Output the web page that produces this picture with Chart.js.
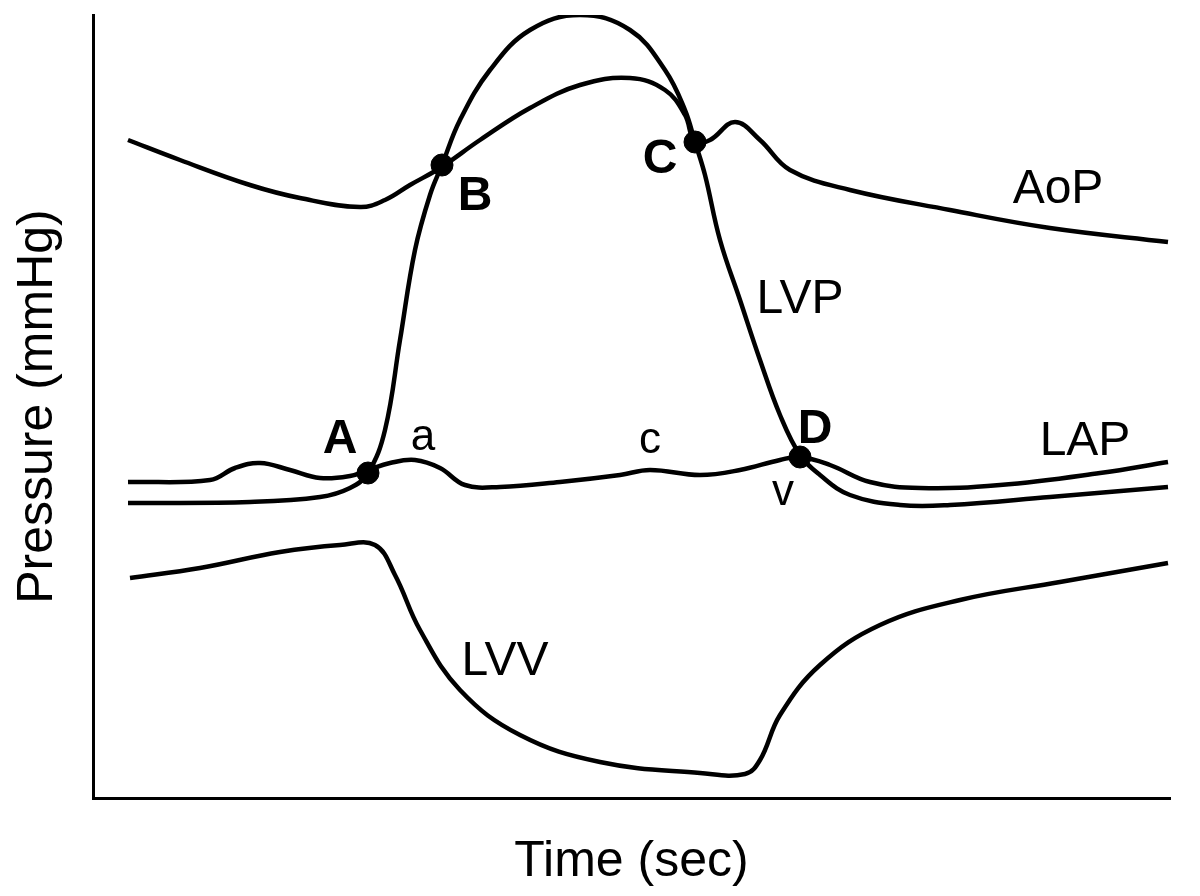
<!DOCTYPE html>
<html><head><meta charset="utf-8">
<script src="https://cdn.jsdelivr.net/npm/chart.js@4"></script>
<style>html,body{margin:0;background:#fff}#w{width:1200px;height:896px}</style>
</head><body><div id="w"><canvas id="c"></canvas></div>
<script>
// x: time units, y: pressure/volume units
const aopX=[35,87,157,207,267,292,317,347,387,437,487,537,572,592,602,617,642,667,697,757,857,957,1075];
const aopY=[658,638,613,600,591,598,613,630,658,690,713,720,708,683,656,658,676,658,628,608,588,570,556];
const lvpX=[35,157,227,257,275,292,307,322,337,349,367,397,437,487,537,572,592,602,612,627,647,667,687,707,727,757,807,857,957,1075];
const lvpY=[295,296,301,310,325,368,458,548,603,633,678,728,768,783,768,728,688,656,623,558,498,438,383,343,323,303,293,293,301,311];
const lapX=[35,117,142,167,197,227,257,275,297,322,347,372,407,467,527,557,607,647,687,707,737,777,827,907,1007,1075];
const lapY=[316,318,330,335,328,320,322,328,335,338,330,313,311,316,323,328,323,328,338,341,333,316,310,313,325,336];
const lvvX=[37,107,187,247,282,302,327,367,427,507,607,652,667,687,727,787,867,967,1075];
const lvvY=[220,230,246,253,253,223,168,108,63,36,25,24,38,83,133,173,198,216,235];
const markX=[275,349,602,707], markY=[325,633,656,341];
const mk=(xs,ys)=>xs.map((x,i)=>({x,y:ys[i]}));
const line=(xs,ys)=>({data:mk(xs,ys),borderColor:'#000',borderWidth:4.5,pointRadius:0,tension:0.4,fill:false});
const B='bold 48px Liberation Sans',N='48px Liberation Sans',S='44px Liberation Sans';
const labels=[
 {t:'A',x:247,y:358,f:B},{t:'B',x:382,y:601,f:B},{t:'C',x:567,y:638,f:B},{t:'D',x:722,y:368,f:B},
 {t:'AoP',x:965,y:608,f:N},{t:'LVP',x:707,y:498,f:N},{t:'LAP',x:992,y:356,f:N},{t:'LVV',x:412,y:136,f:N},
 {t:'a',x:330,y:360,f:S},{t:'c',x:557,y:357,f:S},{t:'v',x:690,y:305,f:S}];
const txt={id:'txt',afterDatasetsDraw(ch){const c=ch.ctx,xs=ch.scales.x,ys=ch.scales.y;c.save();c.fillStyle='#000';c.textAlign='center';c.textBaseline='middle';
 labels.forEach(l=>{c.font=l.f;c.fillText(l.t,xs.getPixelForValue(l.x),ys.getPixelForValue(l.y));});c.restore();}};
new Chart(document.getElementById('c'),{type:'line',
 data:{datasets:[line(aopX,aopY),line(lvpX,lvpY),line(lapX,lapY),line(lvvX,lvvY),
  {type:'scatter',data:mk(markX,markY),pointRadius:11,pointBackgroundColor:'#000',pointBorderColor:'#000'}]},
 options:{responsive:true,maintainAspectRatio:false,animation:false,
  layout:{padding:{top:15,right:30,left:4,bottom:0}},
  plugins:{legend:{display:false},tooltip:{enabled:false}},
  scales:{
   x:{type:'linear',min:0,max:1077,grid:{display:false},border:{color:'#000',width:3},ticks:{display:false},
      title:{display:true,text:'Time (sec)',font:{size:50,family:'Liberation Sans'},color:'#000',padding:{top:20}},
      afterFit(s){s.height=98;}},
   y:{min:0,max:783,grid:{display:false},border:{color:'#000',width:3},ticks:{display:false},
      title:{display:true,text:'Pressure (mmHg)',font:{size:50,family:'Liberation Sans'},color:'#000',padding:{bottom:18}},
      afterFit(s){s.width=89;}}}},
 plugins:[txt]});
</script></body></html>
